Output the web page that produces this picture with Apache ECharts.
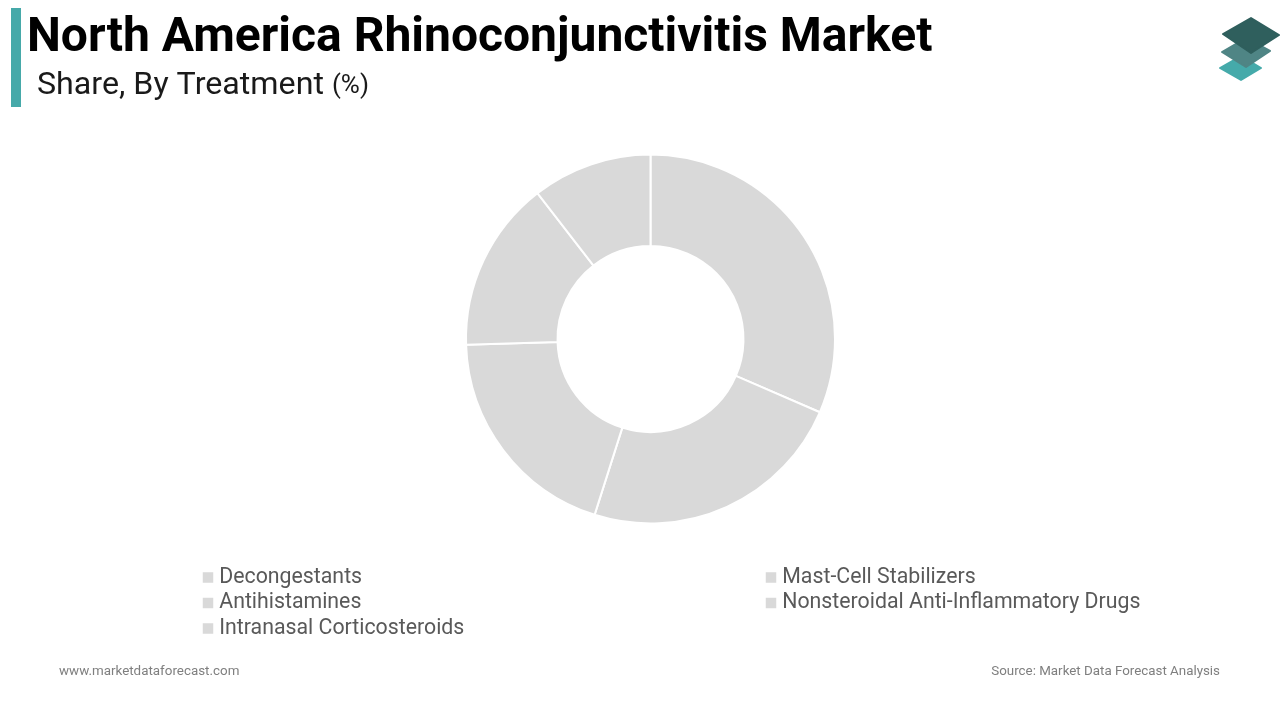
<!DOCTYPE html>
<html>
<head>
<meta charset="utf-8">
<style>
html, body { margin: 0; padding: 0; background: #fff; }
#chart { width: 1280px; height: 720px; }
</style>
<script src="https://cdn.jsdelivr.net/npm/echarts@6/dist/echarts.min.js"></script>
</head>
<body>
<div id="chart"></div>
<script>
var categories = ['Decongestants', 'Antihistamines', 'Intranasal Corticosteroids', 'Mast-Cell Stabilizers', 'Nonsteroidal Anti-Inflammatory Drugs'];
var shares = [31.5, 23.4, 19.6, 15, 10.5];
var leftLegend = categories.slice(0, 3);
var rightLegend = categories.slice(3);
var titleText = 'North America Rhinoconjunctivitis Market';
var subtitleText = 'Share, By Treatment';
var unitText = '(%)';
var siteText = 'www.marketdataforecast.com';
var sourceText = 'Source: Market Data Forecast Analysis';

var pieData = [];
for (var i = 0; i < categories.length; i++) {
    pieData.push({name: categories[i], value: shares[i]});
}

function legendFor(names, left) {
    return {
        data: names,
        left: left,
        top: 566,
        orient: 'vertical',
        icon: 'rect',
        itemWidth: 12.5,
        itemHeight: 12.5,
        itemGap: 2.5,
        padding: 0,
        selectedMode: false,
        textStyle: {
            fontFamily: 'Roboto',
            fontSize: 21.3,
            color: '#595959',
            lineHeight: 23
        }
    };
}

// logo layers, rounded a little with a same-colour stroke
function logoLayer(points, fill) {
    return {
        type: 'polygon',
        shape: {points: points},
        style: {fill: fill, stroke: fill, lineWidth: 2, lineJoin: 'round'}
    };
}

var myChart = echarts.init(document.getElementById('chart'), null, {renderer: 'canvas'});
var option = {
    backgroundColor: '#fff',
    animation: false,
    color: ['#d9d9d9'],
    title: [{
        text: titleText,
        left: 27,
        top: 12,
        padding: 0,
        textStyle: {fontFamily: 'Roboto', fontSize: 48, fontWeight: 'bold', color: '#000', lineHeight: 54}
    }, {
        text: '{a|' + subtitleText + ' }{b|' + unitText + '}',
        left: 37,
        top: 67,
        padding: 0,
        textStyle: {
            fontWeight: 'normal',
            rich: {
                a: {fontFamily: 'Roboto', fontSize: 32.2, fontWeight: 'normal', color: '#1a1a1a', lineHeight: 38},
                b: {fontFamily: 'Roboto', fontSize: 26, fontWeight: 'normal', color: '#1a1a1a', lineHeight: 38}
            }
        }
    }, {
        text: siteText,
        left: 59,
        top: 664,
        padding: 0,
        textStyle: {fontFamily: 'Roboto', fontSize: 13.4, fontWeight: 'normal', color: '#7f7f7f', lineHeight: 16}
    }, {
        text: sourceText,
        right: 60,
        top: 664,
        padding: 0,
        textStyle: {fontFamily: 'Roboto', fontSize: 13.35, fontWeight: 'normal', color: '#7f7f7f', lineHeight: 16}
    }],
    legend: [legendFor(leftLegend, 200.75), legendFor(rightLegend, 763.75)],
    series: [{
        type: 'pie',
        center: [650.5, 339],
        radius: [93, 184.5],
        startAngle: 90,
        clockwise: true,
        silent: true,
        label: {show: false},
        labelLine: {show: false},
        itemStyle: {color: '#d9d9d9', borderColor: '#fff', borderWidth: 2},
        data: pieData
    }],
    graphic: [{
        type: 'rect',
        shape: {x: 11, y: 8, width: 10, height: 99},
        style: {fill: '#46a9a9'}
    },
    logoLayer([[1241, 56], [1261, 68], [1241, 80], [1220, 68]], '#45aaaa'),
    logoLayer([[1246, 38], [1270, 51], [1246, 67], [1222, 52]], '#4f8585'),
    logoLayer([[1251, 18], [1279, 35], [1251, 53], [1223, 34]], '#2f5f5d')]
};
myChart.setOption(option);
</script>
</body>
</html>
